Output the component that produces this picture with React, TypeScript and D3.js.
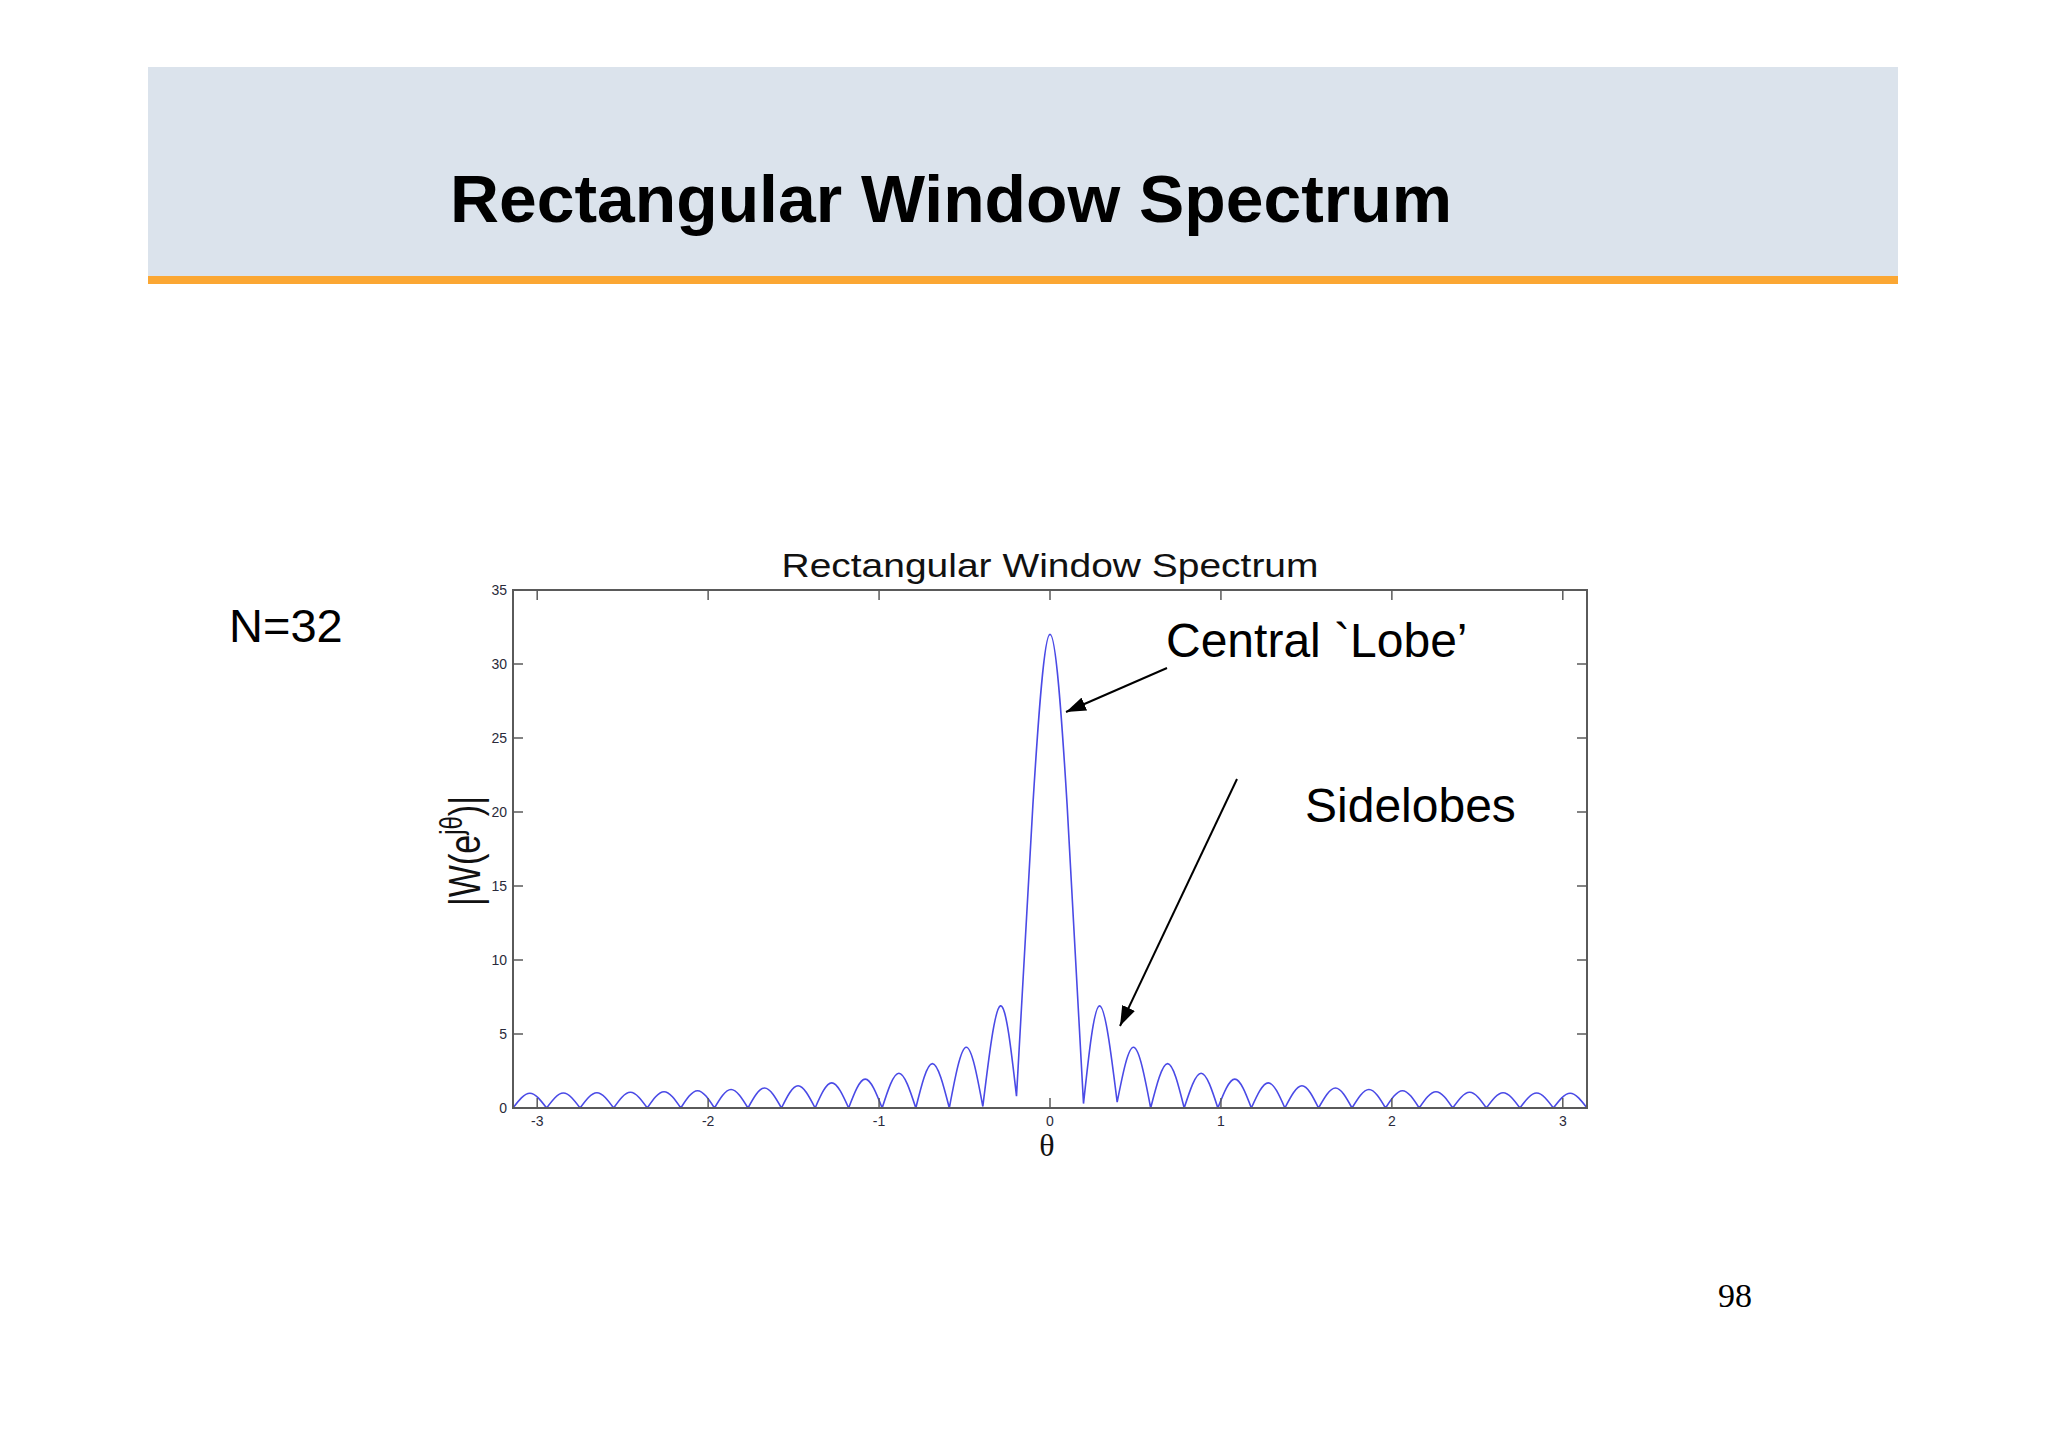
import React from "react";
import * as d3 from "d3";

// ---- data ----
const xTicks = [-3, -2, -1, 0, 1, 2, 3];
const yTicks = [0, 5, 10, 15, 20, 25, 30, 35];

// nulls of the magnitude curve (theta) and the value reached there
const nullTheta = [
  -3.142, -2.945, -2.749, -2.553, -2.356, -2.160, -1.963, -1.767, -1.571, -1.374, -1.178, -0.982,
  -0.785, -0.589, -0.393, -0.196,
  0.196, 0.393, 0.589, 0.785, 0.982, 1.178, 1.374, 1.571, 1.767, 1.963, 2.160, 2.356, 2.553,
  2.749, 2.945, 3.142,
];
const nullValue = [
  0, 0, 0, 0, 0, 0, 0, 0, 0, 0, 0, 0, 0, 0, 0.1, 0.8,
  0.3, 0.4, 0, 0, 0, 0, 0, 0, 0, 0, 0, 0, 0, 0, 0, 0,
];
// lobe peaks (one per lobe between consecutive nulls)
const peakTheta = [
  -3.043, -2.847, -2.651, -2.455, -2.258, -2.062, -1.866, -1.670, -1.474, -1.277, -1.081, -0.884,
  -0.688, -0.490, -0.290,
  0,
  0.290, 0.490, 0.688, 0.884, 1.081, 1.277, 1.474, 1.670, 1.866, 2.062, 2.258, 2.455, 2.651,
  2.847, 3.043,
];
const peakValue = [
  1.0, 1.01, 1.03, 1.06, 1.1, 1.17, 1.25, 1.35, 1.5, 1.7, 1.95, 2.35, 3.0, 4.1, 6.9,
  32,
  6.9, 4.1, 3.0, 2.35, 1.95, 1.7, 1.5, 1.35, 1.25, 1.17, 1.1, 1.06, 1.03, 1.01, 1.0,
];
// shoulders of the central lobe
const shoulderTheta = [-0.1, 0.1];
const shoulderValue = [20.5, 20.5];

const W = 2048;
const H = 1447;
const plot = { left: 513, right: 1587, top: 590, bottom: 1108 };
const sans = "'Liberation Sans', Arial, Helvetica, sans-serif";
const serif = "'Liberation Serif', 'Times New Roman', serif";

export default function App() {
  const x = d3.scaleLinear().domain([-Math.PI, Math.PI]).range([plot.left, plot.right]);
  const y = d3.scaleLinear().domain([0, 35]).range([plot.bottom, plot.top]);
  const line = d3
    .line<[number, number]>()
    .x((d) => x(d[0]))
    .y((d) => y(d[1]))
    .curve(d3.curveNatural);

  const lobes: [number, number][][] = [];
  for (let i = 0; i < peakTheta.length; i++) {
    const pts: [number, number][] = [[nullTheta[i], nullValue[i]]];
    if (peakTheta[i] === 0) {
      pts.push([shoulderTheta[0], shoulderValue[0]]);
      pts.push([peakTheta[i], peakValue[i]]);
      pts.push([shoulderTheta[1], shoulderValue[1]]);
    } else {
      pts.push([peakTheta[i], peakValue[i]]);
    }
    pts.push([nullTheta[i + 1], nullValue[i + 1]]);
    lobes.push(pts);
  }
  const pathD = lobes.map((l) => line(l)).join("");

  const axisColor = "#5a5a5a";
  const tickColor = "#2a2a3a";
  const tl = 10;

  return (
    <svg
      width={W}
      height={H}
      style={{ position: "absolute", left: 0, top: 0, background: "#ffffff" }}
    >
      <defs>
        <marker id="ah" viewBox="0 0 20 14" refX="20" refY="7" markerWidth="20" markerHeight="14" markerUnits="userSpaceOnUse" orient="auto">
          <path d="M0,0 L20,7 L0,14 Z" fill="#000" />
        </marker>
      </defs>
      {/* header */}
      <rect x={148} y={67} width={1750} height={210} fill="#dbe3ec" />
      <rect x={148} y={276} width={1750} height={8} fill="#fba733" />
      <text x={450} y={222} fontFamily={sans} fontWeight="bold" fontSize={67} fill="#000"
        textLength={1002} lengthAdjust="spacingAndGlyphs">
        Rectangular Window Spectrum
      </text>

      <text x={229} y={642} fontFamily={sans} fontSize={47} fill="#000">N=32</text>
      <text x={1718} y={1307} fontFamily={serif} fontSize={34} fill="#000">98</text>

      {/* plot title */}
      <text x={(plot.left + plot.right) / 2} y={577} textAnchor="middle" fontFamily={sans} fontSize={34}
        textLength={537} lengthAdjust="spacingAndGlyphs" fill="#111">
        Rectangular Window Spectrum
      </text>

      {/* curve */}
      <path d={pathD} fill="none" stroke="#4a4ae6" strokeWidth={1.6} />

      {/* box */}
      <rect x={plot.left} y={plot.top} width={plot.right - plot.left} height={plot.bottom - plot.top}
        fill="none" stroke={axisColor} strokeWidth={2} />
      {xTicks.map((t) => (
        <g key={"x" + t}>
          <line x1={x(t)} x2={x(t)} y1={plot.bottom} y2={plot.bottom - tl} stroke={axisColor} strokeWidth={1.5} />
          <line x1={x(t)} x2={x(t)} y1={plot.top} y2={plot.top + tl} stroke={axisColor} strokeWidth={1.5} />
          <text x={x(t)} y={1126} textAnchor="middle" fontFamily={sans} fontSize={14} fill={tickColor}>
            {t}
          </text>
        </g>
      ))}
      {yTicks.map((t) => (
        <g key={"y" + t}>
          <line x1={plot.left} x2={plot.left + tl} y1={y(t)} y2={y(t)} stroke={axisColor} strokeWidth={1.5} />
          <line x1={plot.right} x2={plot.right - tl} y1={y(t)} y2={y(t)} stroke={axisColor} strokeWidth={1.5} />
          <text x={plot.left - 6} y={y(t) + 5} textAnchor="end" fontFamily={sans} fontSize={14} fill={tickColor}>
            {t}
          </text>
        </g>
      ))}

      {/* axis labels */}
      <text x={1047} y={1156} textAnchor="middle" fontFamily={serif} fontSize={32} fill="#111">θ</text>
      <text transform="translate(465,851) rotate(-90) scale(1,1.3)" x={0} y={11.5} textAnchor="middle"
        fontFamily={sans} fontSize={34} fill="#111">
        |W(e<tspan fontSize={24} dy={-14}>jθ</tspan><tspan dy={14}>)|</tspan>
      </text>

      {/* annotations */}
      <text x={1166} y={657} fontFamily={sans} fontSize={48} fill="#000">Central `Lobe’</text>
      <text x={1305} y={822} fontFamily={sans} fontSize={48} fill="#000">Sidelobes</text>
      <line x1={1167} y1={668} x2={1066} y2={712} stroke="#000" strokeWidth={2} markerEnd="url(#ah)" />
      <line x1={1237} y1={779} x2={1120} y2={1026} stroke="#000" strokeWidth={2} markerEnd="url(#ah)" />
    </svg>
  );
}
